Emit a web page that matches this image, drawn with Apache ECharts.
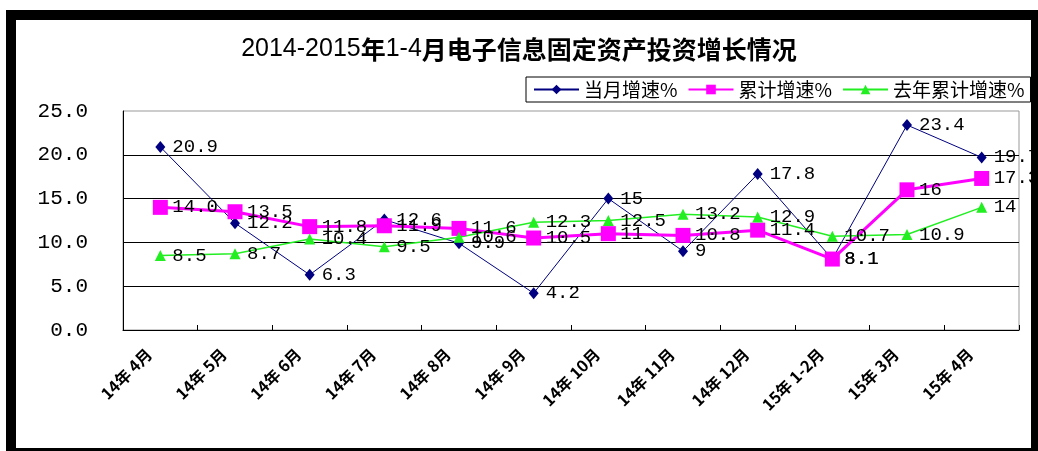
<!DOCTYPE html>
<html>
<head>
<meta charset="utf-8">
<script src="https://cdn.jsdelivr.net/npm/echarts@6/dist/echarts.min.js"></script>
<style>
  html, body { margin: 0; padding: 0; background: #fff; }
  #chart { width: 1038px; height: 451px; }
</style>
</head>
<body>
<div id="chart"></div>
<script>
// Monthly periods on the category axis
const categories = ['14年 4月', '14年 5月', '14年 6月', '14年 7月', '14年 8月', '14年 9月',
  '14年 10月', '14年 11月', '14年 12月', '15年 1-2月', '15年 3月', '15年 4月'];

// Growth rates (%)
const monthlyGrowth = ['20.9', '12.2', '6.3', '12.6', '9.9', '4.2', '15', '9', '17.8', '8.1', '23.4', '19.7'];
const cumulativeGrowth = ['14.0', '13.5', '11.8', '11.9', '11.6', '10.5', '11', '10.8', '11.4', '8.1', '16', '17.3'];
const lastYearCumulativeGrowth = ['8.5', '8.7', '10.4', '9.5', '10.6', '12.3', '12.5', '13.2', '12.9', '10.7', '10.9', '14'];

const seriesNames = ['当月增速%', '累计增速%', '去年累计增速%'];
const yTicks = { min: 0, max: 25, step: 5 };

const chart = echarts.init(document.getElementById('chart'), null, { renderer: 'canvas' });

// Value labels sit just right of each marker; distance compensates for marker size
const valueLabel = distance => ({
  show: true,
  position: 'right',
  distance: distance,
  color: '#000',
  fontFamily: 'Liberation Mono',
  fontSize: 19,
  formatter: p => String(p.data)
});

const frame = [
  { type: 'rect', shape: { x: 6, y: 10, width: 1032, height: 10 } },
  { type: 'rect', shape: { x: 6, y: 10, width: 10, height: 441 } },
  { type: 'rect', shape: { x: 1031, y: 10, width: 7, height: 441 } },
  { type: 'rect', shape: { x: 6, y: 448, width: 1032, height: 3 } }
].map(r => Object.assign(r, { style: { fill: '#000' }, silent: true, z: 100 }));

chart.setOption({
  backgroundColor: '#fff',
  animation: false,
  graphic: frame,
  title: {
    text: '{n|2014-2015}{b|年}{n|1-4}{b|月电子信息固定资产投资增长情况}',
    left: 'center',
    top: 32,
    textStyle: {
      rich: {
        n: { fontFamily: 'Liberation Sans', fontSize: 25, fontWeight: 'normal', color: '#000' },
        b: { fontFamily: 'Noto Sans CJK SC', fontSize: 25, fontWeight: 'bold', color: '#000' }
      }
    }
  },
  legend: {
    data: seriesNames,
    left: 526,
    top: 77,
    width: 520,
    padding: [3, 6, 3, 7],
    itemWidth: 45,
    itemHeight: 12,
    itemGap: 10,
    borderColor: '#000',
    borderWidth: 1,
    textStyle: { fontFamily: 'Noto Sans CJK SC', fontSize: 19, color: '#000' }
  },
  grid: {
    left: 123,
    right: 19,
    top: 111,
    bottom: 121,
    show: true,
    borderColor: '#999',
    borderWidth: 1,
    containLabel: false
  },
  xAxis: {
    type: 'category',
    data: categories,
    boundaryGap: true,
    axisLine: { lineStyle: { color: '#000', width: 1 } },
    axisTick: { show: true, inside: true, length: 5, lineStyle: { color: '#000' } },
    axisLabel: {
      interval: 0,
      rotate: 45,
      margin: 10,
      padding: [0, 16, 0, 0],
      color: '#000',
      fontFamily: 'Noto Sans CJK SC',
      fontWeight: 'bold',
      fontSize: 16
    }
  },
  yAxis: {
    type: 'value',
    min: yTicks.min,
    max: yTicks.max,
    interval: yTicks.step,
    axisLine: { show: true, lineStyle: { color: '#000', width: 1 } },
    axisTick: { show: false },
    axisLabel: {
      margin: 35,
      color: '#000',
      fontFamily: 'Liberation Mono',
      fontSize: 21,
      formatter: v => v.toFixed(1)
    },
    splitLine: { show: true, showMaxLine: false, lineStyle: { color: '#000', width: 1 } }
  },
  series: [
    {
      name: seriesNames[0],
      type: 'line',
      data: monthlyGrowth,
      symbol: 'diamond',
      symbolSize: [10, 12],
      lineStyle: { color: '#000080', width: 1 },
      itemStyle: { color: '#000080' },
      label: valueLabel(7)
    },
    {
      name: seriesNames[1],
      type: 'line',
      data: cumulativeGrowth,
      symbol: 'rect',
      symbolSize: 15,
      lineStyle: { color: '#ff00ff', width: 3 },
      itemStyle: { color: '#ff00ff' },
      label: valueLabel(4.5)
    },
    {
      name: seriesNames[2],
      type: 'line',
      data: lastYearCumulativeGrowth,
      symbol: 'triangle',
      symbolSize: 11,
      lineStyle: { color: '#22ee22', width: 1.5 },
      itemStyle: { color: '#22ee22' },
      label: valueLabel(6.5)
    }
  ]
});
</script>
</body>
</html>
